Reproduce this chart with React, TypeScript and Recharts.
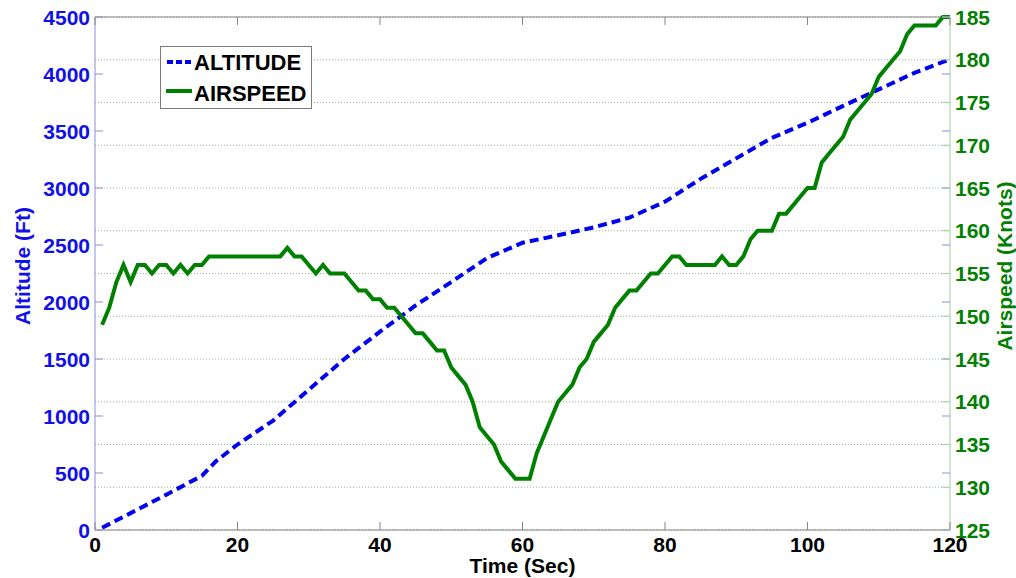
import React from 'react';
import { LineChart, Line, XAxis, YAxis, CartesianGrid, ReferenceLine, Label } from 'recharts';

// ---------- data ----------
const timeSec = [
  1, 2, 3, 4, 5, 6, 7, 8, 9, 10, 11, 12, 13, 14, 15, 16, 17, 18, 19, 20,
  21, 22, 23, 24, 25, 26, 27, 28, 29, 30, 31, 32, 33, 34, 35, 36, 37, 38, 39, 40,
  41, 42, 43, 44, 45, 46, 47, 48, 49, 50, 51, 52, 53, 54, 55, 56, 57, 58, 59, 60,
  61, 62, 63, 64, 65, 66, 67, 68, 69, 70, 71, 72, 73, 74, 75, 76, 77, 78, 79, 80,
  81, 82, 83, 84, 85, 86, 87, 88, 89, 90, 91, 92, 93, 94, 95, 96, 97, 98, 99, 100,
  101, 102, 103, 104, 105, 106, 107, 108, 109, 110, 111, 112, 113, 114, 115, 116, 117, 118, 119, 120,
];
const airspeedKnots = [
  149, 151, 154, 156, 154, 156, 156, 155, 156, 156, 155, 156, 155, 156, 156, 157, 157, 157, 157, 157,
  157, 157, 157, 157, 157, 157, 158, 157, 157, 156, 155, 156, 155, 155, 155, 154, 153, 153, 152, 152,
  151, 151, 150, 149, 148, 148, 147, 146, 146, 144, 143, 142, 140, 137, 136, 135, 133, 132, 131, 131,
  131, 134, 136, 138, 140, 141, 142, 144, 145, 147, 148, 149, 151, 152, 153, 153, 154, 155, 155, 156,
  157, 157, 156, 156, 156, 156, 156, 157, 156, 156, 157, 159, 160, 160, 160, 162, 162, 163, 164, 165,
  165, 168, 169, 170, 171, 173, 174, 175, 176, 178, 179, 180, 181, 183, 184, 184, 184, 184, 185, 185,
];
const altTimeSec = [1, 5, 10, 15, 16, 17, 20, 25, 30, 35, 40, 45, 50, 55, 60, 65, 70, 75, 80, 85, 90, 95, 100, 105, 110, 115, 120];
const altitudeFt = [20, 148, 310, 475, 540, 605, 750, 960, 1230, 1500, 1740, 1970, 2175, 2385, 2520, 2585, 2655, 2740, 2880, 3080, 3260, 3440, 3572, 3720, 3865, 4010, 4130];

const timeTicks = [0, 20, 40, 60, 80, 100, 120];
const altitudeTicks = [0, 500, 1000, 1500, 2000, 2500, 3000, 3500, 4000, 4500];
const airspeedTicks = [125, 130, 135, 140, 145, 150, 155, 160, 165, 170, 175, 180, 185];

const airspeedData = timeSec.map((t, i) => ({ t, airspeed: airspeedKnots[i] }));
const altitudeData = altTimeSec.map((t, i) => ({ t, altitude: altitudeFt[i] }));

// ---------- layout ----------
const W = 1016;
const H = 578;
const MARGIN = { top: 17, right: 0, bottom: 0, left: 0 };
const LEFT_W = 95;
const RIGHT_W = 66;
const X_H = 48;
const PLOT_L = MARGIN.left + LEFT_W;
const PLOT_R = W - MARGIN.right - RIGHT_W;
const PLOT_T = MARGIN.top;
const PLOT_B = H - MARGIN.bottom - X_H;

const FONT = '"Liberation Sans", Arial, Helvetica, sans-serif';
const BLUE = '#0000f0';
const BLUE_TEXT = '#1010e8';
const GREEN = '#008000';
const GREEN_TEXT = '#037f03';
const BLUE_AXIS = '#8c8cdc';
const GREEN_AXIS = '#a3cda3';
const GRAY_AXIS = '#858585';
const TICK_LEN = 8;

const LeftTick = (props: any) => {
  const { y, payload } = props;
  return (
    <g>
      <line x1={PLOT_L} x2={PLOT_L + TICK_LEN} y1={y} y2={y} stroke={BLUE_AXIS} strokeWidth={1} />
      <line x1={PLOT_R - TICK_LEN} x2={PLOT_R} y1={y} y2={y} stroke={BLUE_AXIS} strokeWidth={1} />
      <text x={PLOT_L - 5} y={y} dy="0.36em" textAnchor="end" fill={BLUE_TEXT} fontFamily={FONT} fontWeight="bold" fontSize={21}>
        {payload.value}
      </text>
    </g>
  );
};

const RightTick = (props: any) => {
  const { y, payload } = props;
  return (
    <g>
      <line x1={PLOT_R - TICK_LEN} x2={PLOT_R} y1={y} y2={y} stroke={GREEN_AXIS} strokeWidth={1} />
      <text x={PLOT_R + 5} y={y} dy="0.36em" textAnchor="start" fill={GREEN_TEXT} fontFamily={FONT} fontWeight="bold" fontSize={21}>
        {payload.value}
      </text>
    </g>
  );
};

const BottomTick = (props: any) => {
  const { x, payload } = props;
  return (
    <g>
      <line x1={x} x2={x} y1={PLOT_B - TICK_LEN} y2={PLOT_B} stroke={GRAY_AXIS} strokeWidth={1} />
      <line x1={x} x2={x} y1={PLOT_T} y2={PLOT_T + TICK_LEN} stroke={GRAY_AXIS} strokeWidth={1} />
      <text x={x} y={PLOT_B + 22} textAnchor="middle" fill="#000" fontFamily={FONT} fontWeight="bold" fontSize={21}>
        {payload.value}
      </text>
    </g>
  );
};

const TITLE_Y = 266;

const AltitudeTitle = () => (
  <text x={22} y={TITLE_Y} transform={`rotate(-90 22 ${TITLE_Y})`} textAnchor="middle" dominantBaseline="central"
    fill={BLUE_TEXT} fontFamily={FONT} fontWeight="bold" fontSize={21}>
    Altitude (Ft)
  </text>
);

const AirspeedTitle = () => (
  <text x={1004} y={TITLE_Y} transform={`rotate(-90 1004 ${TITLE_Y})`} textAnchor="middle" dominantBaseline="central"
    fill={GREEN_TEXT} fontFamily={FONT} fontWeight="bold" fontSize={21}>
    Airspeed (Knots)
  </text>
);

const TimeTitle = () => (
  <text x={(PLOT_L + PLOT_R) / 2} y={573} textAnchor="middle" fill="#000" fontFamily={FONT} fontWeight="bold" fontSize={21}>
    Time (Sec)
  </text>
);

export default function App() {
  return (
    <div style={{ position: 'absolute', left: 0, top: 0, width: W, height: H, background: '#fff' }}>
      <LineChart width={W} height={H} margin={MARGIN}>
        <XAxis
          xAxisId="x"
          type="number"
          dataKey="t"
          domain={[0, 120]}
          ticks={timeTicks}
          interval={0}
          height={X_H}
          tickLine={false}
          tickSize={0}
          axisLine={{ stroke: GRAY_AXIS, strokeWidth: 1 }}
          tick={<BottomTick />}
        >
          <Label content={<TimeTitle />} value="Time (Sec)" />
        </XAxis>
        <YAxis
          yAxisId="left"
          orientation="left"
          type="number"
          domain={[0, 4500]}
          ticks={altitudeTicks}
          interval={0}
          width={LEFT_W}
          tickLine={false}
          tickSize={0}
          axisLine={{ stroke: BLUE_AXIS, strokeWidth: 1 }}
          tick={<LeftTick />}
        >
          <Label content={<AltitudeTitle />} value="Altitude (Ft)" />
        </YAxis>
        <YAxis
          yAxisId="right"
          orientation="right"
          type="number"
          domain={[125, 185]}
          ticks={airspeedTicks}
          interval={0}
          width={RIGHT_W}
          tickLine={false}
          tickSize={0}
          axisLine={{ stroke: GREEN_AXIS, strokeWidth: 1 }}
          tick={<RightTick />}
        >
          <Label content={<AirspeedTitle />} value="Airspeed (Knots)" />
        </YAxis>
        <CartesianGrid
          xAxisId="x"
          yAxisId="right"
          vertical={false}
          stroke="#93b593"
          strokeDasharray="1 2"
        />
        <ReferenceLine xAxisId="x" yAxisId="left" y={4500} stroke={GRAY_AXIS} strokeWidth={1} />
        <Line
          xAxisId="x"
          yAxisId="left"
          data={altitudeData}
          dataKey="altitude"
          type="linear"
          stroke={BLUE}
          strokeWidth={4}
          strokeDasharray="9 5"
          dot={false}
          activeDot={false}
          isAnimationActive={false}
        />
        <Line
          xAxisId="x"
          yAxisId="right"
          data={airspeedData}
          dataKey="airspeed"
          type="linear"
          stroke={GREEN}
          strokeWidth={4}
          dot={false}
          activeDot={false}
          isAnimationActive={false}
        />
      </LineChart>
      <div
        style={{
          position: 'absolute',
          left: 160,
          top: 46,
          width: 152,
          height: 63,
          boxSizing: 'border-box',
          border: '1px solid #7a7a7a',
          background: '#fff',
        }}
      >
        <svg width={150} height={61} style={{ display: 'block' }}>
          <line x1={6} x2={31} y1={15} y2={15} stroke={BLUE} strokeWidth={4} strokeDasharray="6 3" />
          <text x={33} y={23} fill="#000" fontFamily={FONT} fontWeight="bold" fontSize={22}>ALTITUDE</text>
          <line x1={5} x2={31} y1={44} y2={44} stroke={GREEN} strokeWidth={4} />
          <text x={33} y={54} fill="#000" fontFamily={FONT} fontWeight="bold" fontSize={22}>AIRSPEED</text>
        </svg>
      </div>
    </div>
  );
}
